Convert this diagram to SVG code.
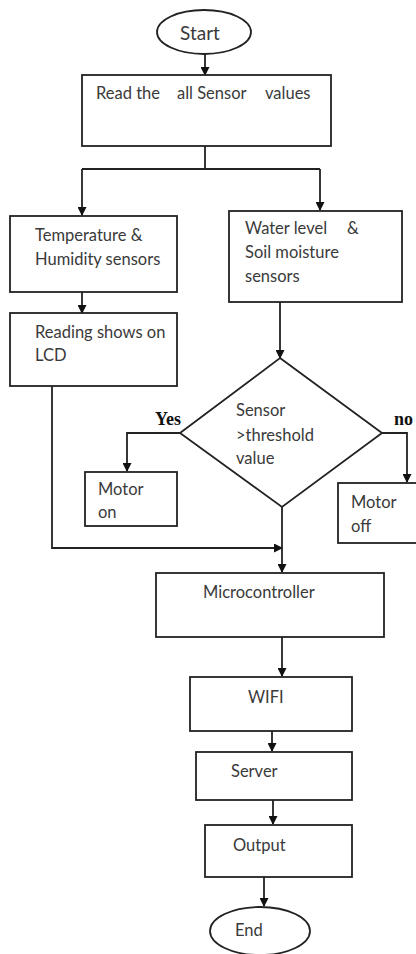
<svg xmlns="http://www.w3.org/2000/svg" width="416" height="954" viewBox="0 0 416 954">
<style>
.box{fill:#fff;stroke:#222;stroke-width:1.8}
.ln{fill:none;stroke:#222;stroke-width:1.8}
.t{font-family:Lato,"Open Sans",sans-serif;font-size:16.5px;fill:#3a3a3a}
.lbl{font-family:"Liberation Serif",serif;font-size:18px;font-weight:bold;fill:#111}
</style>
<defs>
<marker id="ah" markerWidth="9" markerHeight="9" refX="8" refY="4.5" orient="auto" markerUnits="userSpaceOnUse">
<path d="M0,0 L9,4.5 L0,9 Z" fill="#111"/>
</marker>
</defs>
<rect width="416" height="954" fill="#fff"/>
<g id="connectors">
<line class="ln" x1="205" y1="54" x2="205" y2="75" marker-end="url(#ah)"/>
<polyline class="ln" points="205,146 205,169"/>
<polyline class="ln" points="82,169 320,169"/>
<line class="ln" x1="82" y1="169" x2="82" y2="215" marker-end="url(#ah)"/>
<line class="ln" x1="320" y1="169" x2="320" y2="210" marker-end="url(#ah)"/>
<line class="ln" x1="82" y1="292" x2="82" y2="313" marker-end="url(#ah)"/>
<line class="ln" x1="280" y1="302" x2="280" y2="358" marker-end="url(#ah)"/>
<polyline class="ln" points="180,433 127,433 127,471" marker-end="url(#ah)"/>
<polyline class="ln" points="382,433 407,433 407,482" marker-end="url(#ah)"/>
<polyline class="ln" points="52,386 52,548 282,548" marker-end="url(#ah)"/>
<line class="ln" x1="282" y1="507" x2="282" y2="572" marker-end="url(#ah)"/>
<line class="ln" x1="282" y1="637" x2="282" y2="676" marker-end="url(#ah)"/>
<line class="ln" x1="272" y1="731" x2="272" y2="751" marker-end="url(#ah)"/>
<line class="ln" x1="273" y1="800" x2="273" y2="824" marker-end="url(#ah)"/>
<line class="ln" x1="264" y1="877" x2="264" y2="906" marker-end="url(#ah)"/>
</g>
<g id="start">
<ellipse class="box" cx="204" cy="32" rx="47" ry="22"/>
<text class="t" x="200" y="40" text-anchor="middle" style="font-size:19px">Start</text>
</g>
<g id="read">
<rect class="box" x="82" y="75" width="249" height="71"/>
<text class="t" y="99"><tspan x="96">Read the</tspan><tspan x="177">all Sensor</tspan><tspan x="265">values</tspan></text>
</g>
<g id="temp">
<rect class="box" x="10" y="216" width="167" height="76"/>
<text class="t" x="35" y="241">Temperature &amp;</text>
<text class="t" x="35" y="265">Humidity sensors</text>
</g>
<g id="water">
<rect class="box" x="229" y="211" width="173" height="91"/>
<text class="t" y="234"><tspan x="245">Water level</tspan><tspan x="347">&amp;</tspan></text>
<text class="t" x="245" y="258">Soil moisture</text>
<text class="t" x="245" y="282">sensors</text>
</g>
<g id="lcd">
<rect class="box" x="10" y="313" width="167" height="73"/>
<text class="t" x="35" y="338">Reading shows on</text>
<text class="t" x="35" y="361">LCD</text>
</g>
<g id="decision">
<polygon class="box" points="280,358 382,433 282,507 180,433"/>
<text class="t" x="236" y="416">Sensor</text>
<text class="t" x="236" y="441">&gt;threshold</text>
<text class="t" x="236" y="464">value</text>
<text class="lbl" x="155" y="425">Yes</text>
<text class="lbl" x="394" y="425">no</text>
</g>
<g id="motoron">
<rect class="box" x="85" y="472" width="92" height="54"/>
<text class="t" x="98" y="495">Motor</text>
<text class="t" x="98" y="518">on</text>
</g>
<g id="motoroff">
<rect class="box" x="338" y="483" width="90" height="60"/>
<text class="t" x="351" y="508">Motor</text>
<text class="t" x="351" y="532">off</text>
</g>
<g id="micro">
<rect class="box" x="156" y="573" width="228" height="64"/>
<text class="t" x="203" y="598">Microcontroller</text>
</g>
<g id="wifi">
<rect class="box" x="190" y="677" width="162" height="54"/>
<text class="t" x="248" y="703">WIFI</text>
</g>
<g id="server">
<rect class="box" x="196" y="752" width="156" height="48"/>
<text class="t" x="231" y="777">Server</text>
</g>
<g id="output">
<rect class="box" x="205" y="825" width="147" height="52"/>
<text class="t" x="233" y="851">Output</text>
</g>
<g id="end">
<ellipse class="box" cx="260" cy="931" rx="50" ry="24"/>
<text class="t" x="235" y="936">End</text>
</g>
</svg>
